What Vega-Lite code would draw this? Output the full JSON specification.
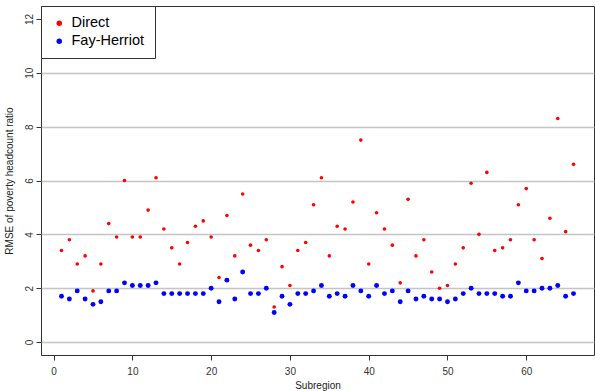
{
  "$schema": "https://vega.github.io/schema/vega-lite/v6.json",
  "width": 553,
  "height": 349,
  "autosize": {"type": "none"},
  "padding": {"left": 41, "top": 6, "right": 1, "bottom": 36},
  "background": "white",
  "config": {
    "font": "Liberation Sans",
    "view": {"stroke": "#333333", "strokeWidth": 1},
    "axis": {"domain": false, "tickColor": "#333333", "tickSize": 5, "labelColor": "#333333", "titleColor": "#222222", "labelFontSize": 10, "titleFontSize": 10, "titleFontWeight": "normal"}
  },
  "datasets": {
    "pts": [
      {"subregion": 1, "series": "Direct", "rmse": 3.4},
      {"subregion": 2, "series": "Direct", "rmse": 3.8},
      {"subregion": 3, "series": "Direct", "rmse": 2.9},
      {"subregion": 4, "series": "Direct", "rmse": 3.2},
      {"subregion": 5, "series": "Direct", "rmse": 1.9},
      {"subregion": 6, "series": "Direct", "rmse": 2.9},
      {"subregion": 7, "series": "Direct", "rmse": 4.4},
      {"subregion": 8, "series": "Direct", "rmse": 3.9},
      {"subregion": 9, "series": "Direct", "rmse": 6.0},
      {"subregion": 10, "series": "Direct", "rmse": 3.9},
      {"subregion": 11, "series": "Direct", "rmse": 3.9},
      {"subregion": 12, "series": "Direct", "rmse": 4.9},
      {"subregion": 13, "series": "Direct", "rmse": 6.1},
      {"subregion": 14, "series": "Direct", "rmse": 4.2},
      {"subregion": 15, "series": "Direct", "rmse": 3.5},
      {"subregion": 16, "series": "Direct", "rmse": 2.9},
      {"subregion": 17, "series": "Direct", "rmse": 3.7},
      {"subregion": 18, "series": "Direct", "rmse": 4.3},
      {"subregion": 19, "series": "Direct", "rmse": 4.5},
      {"subregion": 20, "series": "Direct", "rmse": 3.9},
      {"subregion": 21, "series": "Direct", "rmse": 2.4},
      {"subregion": 22, "series": "Direct", "rmse": 4.7},
      {"subregion": 23, "series": "Direct", "rmse": 3.2},
      {"subregion": 24, "series": "Direct", "rmse": 5.5},
      {"subregion": 25, "series": "Direct", "rmse": 3.6},
      {"subregion": 26, "series": "Direct", "rmse": 3.4},
      {"subregion": 27, "series": "Direct", "rmse": 3.8},
      {"subregion": 28, "series": "Direct", "rmse": 1.3},
      {"subregion": 29, "series": "Direct", "rmse": 2.8},
      {"subregion": 30, "series": "Direct", "rmse": 2.1},
      {"subregion": 31, "series": "Direct", "rmse": 3.4},
      {"subregion": 32, "series": "Direct", "rmse": 3.7},
      {"subregion": 33, "series": "Direct", "rmse": 5.1},
      {"subregion": 34, "series": "Direct", "rmse": 6.1},
      {"subregion": 35, "series": "Direct", "rmse": 3.2},
      {"subregion": 36, "series": "Direct", "rmse": 4.3},
      {"subregion": 37, "series": "Direct", "rmse": 4.2},
      {"subregion": 38, "series": "Direct", "rmse": 5.2},
      {"subregion": 39, "series": "Direct", "rmse": 7.5},
      {"subregion": 40, "series": "Direct", "rmse": 2.9},
      {"subregion": 41, "series": "Direct", "rmse": 4.8},
      {"subregion": 42, "series": "Direct", "rmse": 4.2},
      {"subregion": 43, "series": "Direct", "rmse": 3.6},
      {"subregion": 44, "series": "Direct", "rmse": 2.2},
      {"subregion": 45, "series": "Direct", "rmse": 5.3},
      {"subregion": 46, "series": "Direct", "rmse": 3.2},
      {"subregion": 47, "series": "Direct", "rmse": 3.8},
      {"subregion": 48, "series": "Direct", "rmse": 2.6},
      {"subregion": 49, "series": "Direct", "rmse": 2.0},
      {"subregion": 50, "series": "Direct", "rmse": 2.1},
      {"subregion": 51, "series": "Direct", "rmse": 2.9},
      {"subregion": 52, "series": "Direct", "rmse": 3.5},
      {"subregion": 53, "series": "Direct", "rmse": 5.9},
      {"subregion": 54, "series": "Direct", "rmse": 4.0},
      {"subregion": 55, "series": "Direct", "rmse": 6.3},
      {"subregion": 56, "series": "Direct", "rmse": 3.4},
      {"subregion": 57, "series": "Direct", "rmse": 3.5},
      {"subregion": 58, "series": "Direct", "rmse": 3.8},
      {"subregion": 59, "series": "Direct", "rmse": 5.1},
      {"subregion": 60, "series": "Direct", "rmse": 5.7},
      {"subregion": 61, "series": "Direct", "rmse": 3.8},
      {"subregion": 62, "series": "Direct", "rmse": 3.1},
      {"subregion": 63, "series": "Direct", "rmse": 4.6},
      {"subregion": 64, "series": "Direct", "rmse": 8.3},
      {"subregion": 65, "series": "Direct", "rmse": 4.1},
      {"subregion": 66, "series": "Direct", "rmse": 6.6},
      {"subregion": 1, "series": "Fay-Herriot", "rmse": 1.7},
      {"subregion": 2, "series": "Fay-Herriot", "rmse": 1.6},
      {"subregion": 3, "series": "Fay-Herriot", "rmse": 1.9},
      {"subregion": 4, "series": "Fay-Herriot", "rmse": 1.6},
      {"subregion": 5, "series": "Fay-Herriot", "rmse": 1.4},
      {"subregion": 6, "series": "Fay-Herriot", "rmse": 1.5},
      {"subregion": 7, "series": "Fay-Herriot", "rmse": 1.9},
      {"subregion": 8, "series": "Fay-Herriot", "rmse": 1.9},
      {"subregion": 9, "series": "Fay-Herriot", "rmse": 2.2},
      {"subregion": 10, "series": "Fay-Herriot", "rmse": 2.1},
      {"subregion": 11, "series": "Fay-Herriot", "rmse": 2.1},
      {"subregion": 12, "series": "Fay-Herriot", "rmse": 2.1},
      {"subregion": 13, "series": "Fay-Herriot", "rmse": 2.2},
      {"subregion": 14, "series": "Fay-Herriot", "rmse": 1.8},
      {"subregion": 15, "series": "Fay-Herriot", "rmse": 1.8},
      {"subregion": 16, "series": "Fay-Herriot", "rmse": 1.8},
      {"subregion": 17, "series": "Fay-Herriot", "rmse": 1.8},
      {"subregion": 18, "series": "Fay-Herriot", "rmse": 1.8},
      {"subregion": 19, "series": "Fay-Herriot", "rmse": 1.8},
      {"subregion": 20, "series": "Fay-Herriot", "rmse": 2.0},
      {"subregion": 21, "series": "Fay-Herriot", "rmse": 1.5},
      {"subregion": 22, "series": "Fay-Herriot", "rmse": 2.3},
      {"subregion": 23, "series": "Fay-Herriot", "rmse": 1.6},
      {"subregion": 24, "series": "Fay-Herriot", "rmse": 2.6},
      {"subregion": 25, "series": "Fay-Herriot", "rmse": 1.8},
      {"subregion": 26, "series": "Fay-Herriot", "rmse": 1.8},
      {"subregion": 27, "series": "Fay-Herriot", "rmse": 2.0},
      {"subregion": 28, "series": "Fay-Herriot", "rmse": 1.1},
      {"subregion": 29, "series": "Fay-Herriot", "rmse": 1.7},
      {"subregion": 30, "series": "Fay-Herriot", "rmse": 1.4},
      {"subregion": 31, "series": "Fay-Herriot", "rmse": 1.8},
      {"subregion": 32, "series": "Fay-Herriot", "rmse": 1.8},
      {"subregion": 33, "series": "Fay-Herriot", "rmse": 1.9},
      {"subregion": 34, "series": "Fay-Herriot", "rmse": 2.1},
      {"subregion": 35, "series": "Fay-Herriot", "rmse": 1.7},
      {"subregion": 36, "series": "Fay-Herriot", "rmse": 1.8},
      {"subregion": 37, "series": "Fay-Herriot", "rmse": 1.7},
      {"subregion": 38, "series": "Fay-Herriot", "rmse": 2.1},
      {"subregion": 39, "series": "Fay-Herriot", "rmse": 1.9},
      {"subregion": 40, "series": "Fay-Herriot", "rmse": 1.7},
      {"subregion": 41, "series": "Fay-Herriot", "rmse": 2.1},
      {"subregion": 42, "series": "Fay-Herriot", "rmse": 1.8},
      {"subregion": 43, "series": "Fay-Herriot", "rmse": 1.9},
      {"subregion": 44, "series": "Fay-Herriot", "rmse": 1.5},
      {"subregion": 45, "series": "Fay-Herriot", "rmse": 1.9},
      {"subregion": 46, "series": "Fay-Herriot", "rmse": 1.6},
      {"subregion": 47, "series": "Fay-Herriot", "rmse": 1.7},
      {"subregion": 48, "series": "Fay-Herriot", "rmse": 1.6},
      {"subregion": 49, "series": "Fay-Herriot", "rmse": 1.6},
      {"subregion": 50, "series": "Fay-Herriot", "rmse": 1.5},
      {"subregion": 51, "series": "Fay-Herriot", "rmse": 1.6},
      {"subregion": 52, "series": "Fay-Herriot", "rmse": 1.8},
      {"subregion": 53, "series": "Fay-Herriot", "rmse": 2.0},
      {"subregion": 54, "series": "Fay-Herriot", "rmse": 1.8},
      {"subregion": 55, "series": "Fay-Herriot", "rmse": 1.8},
      {"subregion": 56, "series": "Fay-Herriot", "rmse": 1.8},
      {"subregion": 57, "series": "Fay-Herriot", "rmse": 1.7},
      {"subregion": 58, "series": "Fay-Herriot", "rmse": 1.7},
      {"subregion": 59, "series": "Fay-Herriot", "rmse": 2.2},
      {"subregion": 60, "series": "Fay-Herriot", "rmse": 1.9},
      {"subregion": 61, "series": "Fay-Herriot", "rmse": 1.9},
      {"subregion": 62, "series": "Fay-Herriot", "rmse": 2.0},
      {"subregion": 63, "series": "Fay-Herriot", "rmse": 2.0},
      {"subregion": 64, "series": "Fay-Herriot", "rmse": 2.1},
      {"subregion": 65, "series": "Fay-Herriot", "rmse": 1.7},
      {"subregion": 66, "series": "Fay-Herriot", "rmse": 1.8}
    ]
  },
  "data": {"name": "pts"},
  "encoding": {
    "x": {
      "field": "subregion", "type": "quantitative",
      "scale": {"domain": [-1.6, 68.6], "nice": false, "zero": false},
      "axis": {"values": [0, 10, 20, 30, 40, 50, 60], "title": "Subregion", "grid": false, "labelPadding": 6, "titlePadding": 4, "labelFlush": false}
    },
    "y": {
      "field": "rmse", "type": "quantitative",
      "scale": {"domain": [-0.48, 12.48], "nice": false, "zero": false},
      "axis": {
        "values": [0, 2, 4, 6, 8, 10, 12],
        "title": "RMSE of poverty headcount ratio",
        "grid": true,
        "gridColor": {"condition": {"test": "datum.value == 12", "value": "transparent"}, "value": "#c4c4c4"},
        "gridWidth": 1.5,
        "labelAngle": 270, "labelAlign": "center", "labelBaseline": "bottom", "labelPadding": 2,
        "titlePadding": 10, "labelFlush": false
      }
    },
    "color": {
      "field": "series", "type": "nominal",
      "scale": {"domain": ["Direct", "Fay-Herriot"], "range": ["#ff0000", "#0000ff"]},
      "legend": {
        "title": null, "orient": "top-left", "offset": 0,
        "strokeColor": "#333333", "fillColor": "white", "padding": 10,
        "labelFontSize": 14.5, "labelColor": "#000000", "symbolType": "circle", "symbolSize": 30,
        "symbolStrokeWidth": 0, "rowPadding": 3, "labelOffset": 5, "symbolOffset": 1
      }
    }
  },
  "layer": [
    {"transform": [{"filter": "datum.series == 'Fay-Herriot'"}], "mark": {"type": "circle", "size": 24, "opacity": 1}},
    {"transform": [{"filter": "datum.series == 'Direct'"}], "mark": {"type": "circle", "size": 13, "opacity": 1}}
  ]
}
